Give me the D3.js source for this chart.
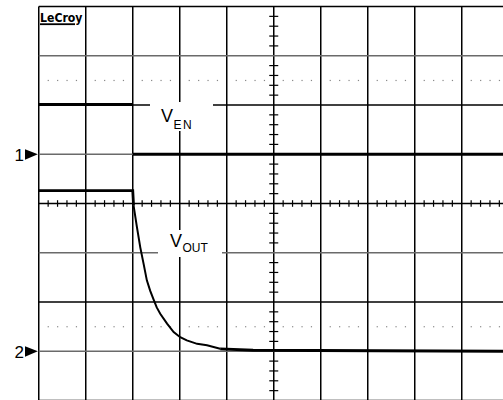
<!DOCTYPE html>
<html><head><meta charset="utf-8">
<script src="https://cdn.jsdelivr.net/npm/d3@7"></script>
<style>html,body{margin:0;padding:0;background:#fff;}svg{display:block;}</style>
</head><body>
<script>
// Time axis in divisions, amplitudes in divisions relative to each channel's ground marker
const channelNames = ["1", "2"];
const channelOffsets = [1, -3];          // ground marker positions (div)
const enTime  = [0, 2.0, 2.0, 10];
const enLevel = [1.01, 1.01, 0, 0];
const outTime  = [0, 2.0, 2.017, 2.089, 2.16, 2.23, 2.30, 2.37, 2.44, 2.51, 2.585, 2.73, 2.87, 3.01, 3.15, 3.37, 3.58, 3.86, 4.56, 10];
const outLevel = [3.26, 3.26, 2.96, 2.52, 2.11, 1.78, 1.44, 1.23, 1.06, 0.89, 0.76, 0.56, 0.39, 0.285, 0.22, 0.15, 0.12, 0.05, 0.02, 0];
const traceLabels = [{main: "V", sub: "EN"}, {main: "V", sub: "OUT"}];

const W = 503, H = 400;
const svg = d3.select("body").append("svg").attr("width", W).attr("height", H);
const x = d3.scaleLinear().domain([0, 10]).range([38.75, 508.75]);
const y = d3.scaleLinear().domain([-4, 4]).range([400.5, 6.5]);

const g = svg.append("g");
// vertical grid lines
g.selectAll(".vl").data(d3.range(0, 11)).join("line")
  .attr("x1", d => x(d)).attr("x2", d => x(d)).attr("y1", y(4)).attr("y2", y(-4))
  .attr("stroke", "#000").attr("stroke-width", 1.5);
// horizontal grid lines
const grayLines = [3, 1, -1, -3];
g.selectAll(".hl").data(d3.range(-4, 5)).join("line")
  .attr("x1", x(0)).attr("x2", x(10)).attr("y1", d => y(d)).attr("y2", d => y(d))
  .attr("stroke", d => grayLines.includes(d) ? "#6a6a6a" : "#000").attr("stroke-width", 1.5);
// dotted half-division lines
const minorX = d3.range(0, 50).filter(i => i % 5 !== 0).map(i => i / 5);
[2.5, -2.5].forEach(lv => {
  g.selectAll(null).data(minorX).join("rect")
    .attr("x", d => x(d) - 0.5).attr("y", y(lv) - 0.5).attr("width", 1.2).attr("height", 1.2)
    .attr("fill", "#888");
});
// center axis ticks
const minorY = d3.range(-20, 21).filter(i => i % 5 !== 0).map(i => i / 5);
g.selectAll(null).data(d3.range(0, 51).filter(i => i % 5 !== 0).map(i => i / 5)).join("line")
  .attr("x1", d => x(d)).attr("x2", d => x(d)).attr("y1", y(0) - 3.3).attr("y2", y(0) + 3.3)
  .attr("stroke", "#000").attr("stroke-width", 1.2);
g.selectAll(null).data(minorY).join("line")
  .attr("y1", d => y(d)).attr("y2", d => y(d)).attr("x1", x(5) - 4.5).attr("x2", x(5) + 4.5)
  .attr("stroke", "#000").attr("stroke-width", 1.2);

// label boxes (white, cut the grid)
const boxes = [{x0: 150, y0: 102, x1: 213, y1: 131}, {x0: 158, y0: 230, x1: 222, y1: 257}];
g.selectAll(".box").data(boxes).join("rect")
  .attr("x", d => d.x0).attr("y", d => d.y0).attr("width", d => d.x1 - d.x0).attr("height", d => d.y1 - d.y0)
  .attr("fill", "#fff");

// traces
const line = d3.line().x(d => x(d[0])).y(d => y(d[1]));
const enPts = enTime.map((t, i) => [t, enLevel[i] + channelOffsets[0]]);
const outPts = outTime.map((t, i) => [t, outLevel[i] + channelOffsets[1]]);
[enPts.slice(0, 2), enPts.slice(2)].forEach(seg => {
  svg.append("path").attr("d", line(seg)).attr("fill", "none").attr("stroke", "#000").attr("stroke-width", 2.8);
});
svg.append("path").attr("d", line(outPts.slice(0, 3))).attr("fill", "none").attr("stroke", "#000").attr("stroke-width", 2.8);
svg.append("path").attr("d", line(outPts.slice(2, outPts.length - 2))).attr("fill", "none").attr("stroke", "#000").attr("stroke-width", 2);
svg.append("path").attr("d", line(outPts.slice(outPts.length - 3))).attr("fill", "none").attr("stroke", "#000").attr("stroke-width", 2.8);

// trace labels
const labelPos = [{x: 161, y: 121.7}, {x: 170, y: 246.7}];
traceLabels.forEach((l, i) => {
  const t = svg.append("text").attr("x", labelPos[i].x).attr("y", labelPos[i].y)
    .attr("font-family", "Liberation Sans, Arial, sans-serif").attr("font-size", 18).attr("fill", "#000");
  t.append("tspan").text(l.main);
  t.append("tspan").attr("font-size", 12).attr("dy", i === 0 ? 7.5 : 5).attr("dx", 0.5)
    .attr("letter-spacing", i === 0 ? 1.5 : 0).text(l.sub);
});

// channel markers
channelNames.forEach((n, i) => {
  const cy = y(channelOffsets[i]);
  svg.append("text").attr("x", 24).attr("y", cy + 6.5).attr("text-anchor", "end")
    .attr("font-family", "Liberation Sans, Arial, sans-serif").attr("font-size", 17).text(n);
  svg.append("path").attr("d", `M25,${cy - 5} L37.8,${cy} L25,${cy + 5.5} Z`).attr("fill", "#000");
});

// LeCroy logo
svg.append("text").attr("x", 40).attr("y", 21.5).attr("font-family", "DejaVu Sans, sans-serif")
  .attr("font-weight", "bold").attr("font-size", 12.5).attr("textLength", 42.5).attr("lengthAdjust", "spacingAndGlyphs")
  .text("LeCroy");
svg.append("rect").attr("x", 40).attr("y", 23.3).attr("width", 35).attr("height", 1.8).attr("fill", "#000");
</script>
</body></html>
